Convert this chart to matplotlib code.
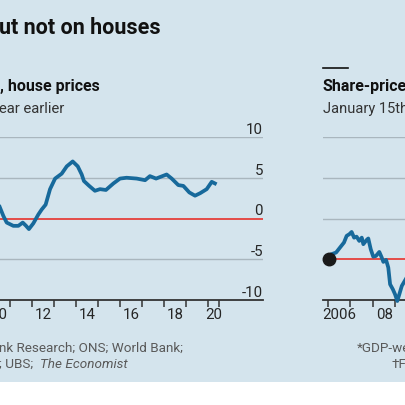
import matplotlib
matplotlib.use("Agg")
import matplotlib.pyplot as plt
from matplotlib.patches import Rectangle

plt.rcParams["font.family"] = ["Roboto", "DejaVu Sans"]

W = H = 406
BG = "#d4e4ed"
BLUE = "#17699b"
RED = "#e8221b"
GRID = "#a9b6be"
INK = "#262626"
GREY = "#595959"

# left panel: house prices, % change on a year earlier
house_years = [2010.30, 2010.55, 2010.70, 2010.85, 2011.15, 2011.38, 2011.58, 2011.73, 2011.86,
               2012.06, 2012.29, 2012.44, 2012.62, 2012.82, 2013.05, 2013.35, 2013.58, 2013.85,
               2014.08, 2014.26, 2014.36, 2014.60, 2014.86, 2015.09, 2015.36, 2015.70, 2016.00,
               2016.30, 2016.76, 2017.14, 2017.36, 2017.64, 2018.12, 2018.35, 2018.65, 2018.88,
               2019.15, 2019.41, 2019.64, 2019.94, 2020.17, 2020.39]
house_change = [3.0, 1.3, 0.3, -0.5, -0.9, -0.9, -0.5, -0.9, -1.3,
                -0.6, 0.5, 1.1, 1.7, 3.6, 4.9, 5.5, 6.4, 7.0,
                6.4, 5.4, 4.6, 4.0, 3.4, 3.6, 3.5, 4.3, 4.9,
                5.0, 4.9, 4.7, 5.2, 4.9, 5.4, 4.9, 4.1, 4.0,
                3.2, 2.8, 3.1, 3.6, 4.5, 4.2]
house_ticks = [2011, 2012, 2013, 2014, 2015, 2016, 2017, 2018, 2019, 2020, 2020.5]
house_label_pos = [2010.5, 2012.5, 2014.5, 2016.5, 2018.5, 2020.25]
house_labels = ["10", "12", "14", "16", "18", "20"]
house_yticks = [10, 5, 0, -5, -10]

# right panel: share prices (index, start = 100)
share_years = [2006.06, 2006.16, 2006.36, 2006.53, 2006.71, 2006.83, 2006.95, 2007.05, 2007.16,
               2007.27, 2007.39, 2007.50, 2007.57, 2007.72, 2007.79, 2007.90, 2008.01, 2008.13,
               2008.28, 2008.39, 2008.46, 2008.58, 2008.68, 2008.76, 2008.88, 2008.98, 2009.08,
               2009.17, 2009.28, 2009.47, 2009.70, 2010.00]
share_index = [100, 102.5, 103.3, 105.7, 108.2, 111.5, 112.3, 113.4, 110.6,
               111.1, 109.0, 110.6, 107.4, 109.5, 110.2, 104.9, 101.3, 101.6,
               103.6, 100.8, 98.7, 99.7, 95.9, 87.7, 85.3, 82.8, 79.5,
               82.8, 86.9, 90.5, 93.0, 95.0]
share_ticks = [2006, 2007, 2008, 2009, 2010]
share_label_pos = [2006.5, 2008.5]
share_labels = ["2006", "08"]
share_grid = [160, 140, 120]


def fx(px):
    return px / W


def fy(py):
    return 1 - py / H


fig = plt.figure(figsize=(W / 100, H / 100), dpi=100, facecolor="white")
fig.patches.append(Rectangle((0, fy(383)), 1, 1 - fy(383), transform=fig.transFigure,
                             facecolor=BG, edgecolor="none", zorder=-10))


def style_axis(ax):
    ax.set_facecolor("none")
    for s in ["left", "right", "top"]:
        ax.spines[s].set_visible(False)
    ax.spines["bottom"].set_color("#333333")
    ax.spines["bottom"].set_linewidth(1.3)
    ax.set_yticks([])
    ax.tick_params(axis="x", which="major", length=5, width=1.1, color="#333333",
                   labelbottom=False)
    ax.tick_params(axis="x", which="minor", length=0, labelsize=10.8, labelcolor=INK, pad=5)


# left panel: pixel mapping x: year 2012 -> 32px, 22px per year; y: -10 -> 301px, 10 -> 138px
x0, x1 = -30, 263
ax1 = fig.add_axes([fx(x0), fy(301), fx(x1) - fx(x0), fy(138) - fy(301)])
style_axis(ax1)
ax1.set_xlim(2012 + (x0 - 32) / 22, 2012 + (x1 - 32) / 22)
ax1.set_ylim(-10, 10)
for v in [10, 5, -5]:
    ax1.axhline(v, color=GRID, lw=1.0, zorder=1)
ax1.axhline(0, color=RED, lw=1.1, zorder=2)
ax1.plot(house_years, house_change, color=BLUE, lw=2.7, solid_capstyle="butt", zorder=3)
ax1.set_xticks(house_ticks)
ax1.set_xticks(house_label_pos, minor=True)
ax1.set_xticklabels(house_labels, minor=True)
for v in house_yticks:
    ax1.annotate(str(v), xy=(1, v), xycoords=("axes fraction", "data"), xytext=(0, 3),
                 textcoords="offset points", ha="right", va="baseline", fontsize=10.8, color=INK)

# right panel: x: 2006 -> 328px, 22.5px per year
r0, r1 = 323, 620
ax2 = fig.add_axes([fx(r0), fy(301), fx(r1) - fx(r0), fy(138) - fy(301)])
style_axis(ax2)
ax2.set_xlim(2006 + (r0 - 328) / 22.5, 2006 + (r1 - 328) / 22.5)
ax2.set_ylim(80, 160)
for v in share_grid:
    ax2.axhline(v, color=GRID, lw=1.0, zorder=1)
ax2.axhline(100, color=RED, lw=1.1, zorder=2)
ax2.plot(share_years, share_index, color=BLUE, lw=2.7, zorder=3, clip_on=False)
ax2.plot(share_years[0], share_index[0], "o", color="#1a1a1a", ms=9, zorder=4, clip_on=False)
ax2.set_xticks(share_ticks)
ax2.set_xticks(share_label_pos, minor=True)
ax2.set_xticklabels(share_labels, minor=True)

# titles
fig.text(fx(-1), fy(34), "ut not on houses", fontsize=15.5, fontweight="bold", color="#111111")
fig.text(fx(0), fy(91), ", house prices", fontsize=11.5, fontweight="bold", color="#111111")
fig.text(fx(-1), fy(113), "ear earlier", fontsize=10.7, color="#333333")
fig.lines.append(plt.Line2D([fx(323), fx(348)], [fy(69), fy(69)], transform=fig.transFigure,
                            color="#111111", lw=1.2))
fig.text(fx(323), fy(91), "Share-price", fontsize=11.5, fontweight="bold", color="#111111")
fig.text(fx(323), fy(113), "January 15th", fontsize=10.5, color="#333333")

# footnotes
fig.text(fx(-1), fy(352), "nk Research; ONS; World Bank;", fontsize=9.7, color=GREY)
fig.text(fx(-1), fy(368), "; UBS;", fontsize=9.7, color=GREY)
fig.text(fx(40), fy(368), "The Economist", fontsize=9.7, color=GREY, style="italic")
fig.text(fx(357), fy(352), "*GDP-weighted", fontsize=9.7, color=GREY)
fig.text(fx(392), fy(368), "\u2020Fi", fontsize=9.7, color=GREY)

fig.savefig("out.png", dpi=100, facecolor="white")
